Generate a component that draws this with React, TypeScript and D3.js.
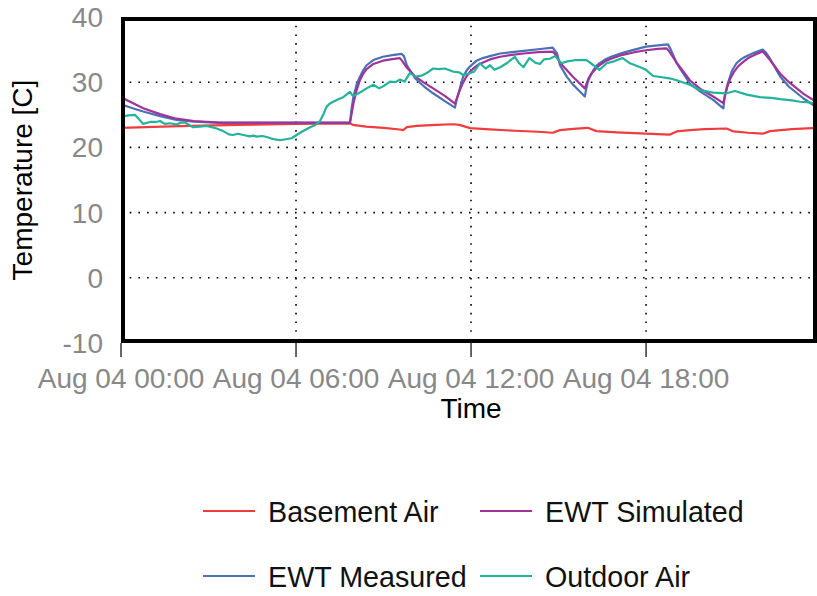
import React from "react";
import * as d3 from "d3";

// Readings for Aug 04, as [hours since midnight, temperature °C]
const basementAir: [number, number][] = [
  [0, 23.0], [2, 23.25], [4, 23.45], [6, 23.6], [7.85, 23.7], [7.95, 23.45], [8.4, 23.2],
  [9.0, 23.0], [9.56, 22.75], [9.67, 22.65], [9.8, 23.1], [10.14, 23.3], [10.8, 23.45],
  [11.4, 23.55], [11.6, 23.45], [11.97, 22.95], [12.65, 22.75], [13.5, 22.55], [14.3, 22.4],
  [14.8, 22.25], [15.05, 22.65], [15.5, 22.85], [16.0, 23.0], [16.3, 22.5], [17.0, 22.3],
  [18.0, 22.1], [18.8, 21.95], [19.05, 22.45], [19.5, 22.65], [20.0, 22.8], [20.76, 22.9],
  [21.0, 22.45], [21.5, 22.25], [22.0, 22.1], [22.25, 22.5], [23.0, 22.8], [23.86, 23.0],
];

const ewtSimulated: [number, number][] = [
  [0, 27.7], [0.4, 26.8], [0.76, 26.0], [1.34, 25.1], [1.9, 24.4], [2.5, 24.05], [3.4, 23.8],
  [7.85, 23.8], [7.9, 25.0], [7.97, 26.8], [8.08, 28.8], [8.19, 30.3], [8.3, 31.3], [8.42, 32.0],
  [8.65, 32.8], [8.98, 33.3], [9.3, 33.55], [9.56, 33.7], [9.65, 33.2], [9.8, 32.2], [10.08, 30.9],
  [10.4, 29.9], [10.7, 29.05], [11.1, 27.9], [11.45, 26.7], [11.52, 27.6], [11.6, 28.6],
  [11.7, 29.7], [11.82, 30.7], [11.96, 31.6], [12.1, 32.2], [12.25, 32.7], [12.45, 33.1],
  [12.65, 33.5], [13.0, 33.9], [13.4, 34.2], [13.8, 34.4], [14.3, 34.6], [14.8, 34.7], [14.9, 34.2],
  [15.05, 33.0], [15.5, 30.8], [15.9, 29.05], [15.96, 29.8], [16.03, 30.6], [16.12, 31.3],
  [16.25, 31.95], [16.4, 32.6], [16.6, 33.2], [16.8, 33.6], [17.2, 34.2], [17.6, 34.6], [18.0, 34.9],
  [18.4, 35.1], [18.7, 35.2], [18.8, 34.7], [19.05, 33.0], [19.5, 30.3], [19.85, 29.0], [20.3, 27.8],
  [20.65, 26.8], [20.7, 27.8], [20.78, 29.2], [20.88, 30.5], [21.0, 31.5], [21.15, 32.4],
  [21.3, 33.0], [21.5, 33.7], [21.75, 34.25], [22.0, 34.7], [22.1, 34.2], [22.25, 33.4],
  [22.6, 31.3], [22.9, 30.0], [23.4, 28.2], [23.86, 26.9],
];

const ewtMeasured: [number, number][] = [
  [0, 26.6], [0.4, 26.0], [0.76, 25.5], [1.34, 24.8], [1.9, 24.2], [2.5, 23.95], [3.4, 23.75],
  [7.85, 23.75], [7.9, 25.8], [7.97, 27.8], [8.08, 29.7], [8.19, 30.85], [8.3, 31.8], [8.42, 32.6],
  [8.65, 33.4], [8.98, 33.9], [9.3, 34.15], [9.62, 34.35], [9.7, 34.0], [9.8, 32.6], [10.08, 30.6],
  [10.4, 29.3], [10.7, 28.3], [11.1, 27.1], [11.45, 26.1], [11.5, 27.2], [11.57, 28.3],
  [11.65, 29.6], [11.73, 30.85], [11.85, 31.8], [11.96, 32.4], [12.19, 33.3], [12.4, 33.7],
  [12.65, 34.0], [13.0, 34.4], [13.4, 34.6], [13.8, 34.8], [14.3, 35.05], [14.8, 35.3],
  [14.95, 34.4], [15.05, 32.6], [15.28, 30.85], [15.5, 29.6], [15.9, 27.8], [15.95, 29.0],
  [16.0, 30.0], [16.08, 30.85], [16.2, 31.9], [16.3, 32.5], [16.4, 32.9], [16.6, 33.5], [16.8, 33.9],
  [17.2, 34.5], [17.6, 35.0], [18.0, 35.45], [18.4, 35.65], [18.75, 35.8], [18.85, 35.0],
  [19.05, 32.9], [19.16, 32.1], [19.5, 29.8], [19.85, 28.6], [20.3, 27.3], [20.65, 26.0],
  [20.7, 28.0], [20.8, 29.8], [20.95, 31.8], [21.1, 32.9], [21.25, 33.5], [21.4, 33.9],
  [21.7, 34.5], [22.0, 35.0], [22.1, 34.6], [22.25, 33.6], [22.6, 30.85], [22.9, 29.3],
  [23.4, 27.5], [23.86, 26.1],
];

const outdoorAir: [number, number][] = [
  [0, 24.7], [0.25, 24.9], [0.48, 25.0], [0.62, 24.3], [0.76, 23.6], [1.0, 23.9], [1.2, 23.9],
  [1.34, 24.05], [1.5, 23.6], [1.7, 23.7], [1.9, 23.5], [2.05, 23.8], [2.2, 23.8], [2.35, 23.4],
  [2.47, 23.1], [2.7, 23.2], [2.94, 23.3], [3.1, 23.1], [3.28, 22.9], [3.5, 22.5], [3.7, 22.0],
  [3.84, 21.9], [4.0, 22.1], [4.2, 21.9], [4.4, 21.7], [4.55, 21.8], [4.65, 21.65], [4.85, 21.75],
  [5.0, 21.6], [5.2, 21.3], [5.45, 21.1], [5.65, 21.25], [5.85, 21.4], [6.02, 21.9], [6.2, 22.4],
  [6.48, 23.1], [6.65, 23.4], [6.82, 24.0], [6.95, 25.2], [7.05, 26.25], [7.15, 26.7], [7.27, 27.0],
  [7.45, 27.4], [7.62, 27.7], [7.85, 28.5], [7.95, 27.9], [8.15, 28.3], [8.42, 29.05], [8.65, 29.6],
  [8.85, 29.05], [9.0, 29.4], [9.22, 30.1], [9.4, 30.0], [9.56, 30.4], [9.72, 30.1], [9.9, 31.4],
  [10.1, 30.85], [10.3, 31.0], [10.48, 31.4], [10.7, 32.1], [10.9, 32.0], [11.1, 32.1], [11.4, 31.6],
  [11.6, 31.5], [11.73, 31.1], [11.9, 31.3], [12.1, 31.6], [12.3, 32.9], [12.5, 32.1], [12.65, 32.6],
  [12.8, 31.9], [13.0, 32.3], [13.22, 32.9], [13.5, 33.9], [13.65, 32.9], [13.8, 32.3], [14.0, 33.7],
  [14.2, 33.0], [14.36, 32.8], [14.5, 33.5], [14.7, 33.6], [14.88, 34.0], [15.1, 32.9], [15.3, 33.2],
  [15.6, 33.4], [15.96, 33.4], [16.2, 32.6], [16.4, 31.9], [16.65, 32.9], [16.9, 33.2], [17.2, 33.7],
  [17.45, 32.9], [17.8, 32.3], [18.0, 31.9], [18.24, 30.95], [18.5, 30.8], [18.8, 30.6], [19.05, 30.3],
  [19.5, 29.6], [19.85, 28.8], [20.3, 28.4], [20.76, 28.3], [21.05, 28.65], [21.45, 28.1],
  [21.9, 27.7], [22.3, 27.6], [22.6, 27.4], [23.0, 27.2], [23.28, 27.0], [23.6, 26.9], [23.86, 26.6],
];

const yTicks = [-10, 0, 10, 20, 30, 40];
const xTickHours = [0, 6, 12, 18];

type Series = { name: string; color: string; data: [number, number][] };

const seriesList: Series[] = [
  { name: "Basement Air", color: "#f03c3c", data: basementAir },
  { name: "EWT Measured", color: "#4a70b5", data: ewtMeasured },
  { name: "EWT Simulated", color: "#a0339a", data: ewtSimulated },
  { name: "Outdoor Air", color: "#23b39b", data: outdoorAir },
];

// legend layout: two rows, two columns
const legendOrder = ["Basement Air", "EWT Simulated", "EWT Measured", "Outdoor Air"];

const W = 817;
const H = 596;
const left = 121;
const right = 817;
const top = 17;
const bottom = 343;
const FONT = "'Liberation Sans', Arial, Helvetica, sans-serif";

const day = new Date(2015, 7, 4, 0, 0, 0);
const at = (h: number) => new Date(day.getTime() + h * 3600 * 1000);

export default function App() {
  const x = d3.scaleTime().domain([at(0), at(23.86)]).range([left, right]);
  const y = d3.scaleLinear().domain([-10, 40]).range([bottom, top]);
  const fmt = d3.timeFormat("%b %d %H:%M");
  const line = d3
    .line<[number, number]>()
    .x((d) => x(at(d[0])))
    .y((d) => y(d[1]));

  const dash = "1.6 7.1";

  return (
    <svg
      width={W}
      height={H}
      style={{ position: "fixed", left: 0, top: 0, background: "#fff" }}
      fontFamily={FONT}
    >
      <rect x={0} y={0} width={W} height={H} fill="#fff" />
      <defs>
        <clipPath id="plot-clip">
          <rect x={left} y={top} width={right - left} height={bottom - top} />
        </clipPath>
      </defs>

      {/* grid */}
      {yTicks
        .filter((t) => t > -10 && t < 40)
        .map((t) => (
          <line
            key={"gy" + t}
            x1={left}
            x2={right}
            y1={y(t)}
            y2={y(t)}
            stroke="#000"
            strokeWidth={1.6}
            strokeDasharray={dash}
          />
        ))}
      {xTickHours
        .filter((h) => h > 0)
        .map((h) => (
          <line
            key={"gx" + h}
            x1={x(at(h))}
            x2={x(at(h))}
            y1={top}
            y2={bottom}
            stroke="#000"
            strokeWidth={1.6}
            strokeDasharray={dash}
          />
        ))}

      {/* series */}
      <g clipPath="url(#plot-clip)">
        {seriesList.map((s) => (
          <path
            key={s.name}
            d={line(s.data) || ""}
            fill="none"
            stroke={s.color}
            strokeWidth={2.2}
            strokeLinejoin="round"
          />
        ))}
      </g>

      {/* frame */}
      <rect
        x={left + 2}
        y={top + 2}
        width={right - left - 4}
        height={bottom - top - 4}
        fill="none"
        stroke="#000"
        strokeWidth={4}
      />

      {/* x axis ticks and labels */}
      {xTickHours.map((h) => (
        <g key={"xt" + h}>
          <line x1={x(at(h))} x2={x(at(h))} y1={bottom} y2={357} stroke="#000" strokeWidth={1.2} />
          <text
            x={x(at(h))}
            y={388}
            textAnchor="middle"
            fontSize={28}
            fill="#888"
          >
            {fmt(at(h))}
          </text>
        </g>
      ))}

      {/* y tick labels */}
      {yTicks.map((t) => (
        <text
          key={"yt" + t}
          x={103}
          y={y(t) + 10}
          textAnchor="end"
          fontSize={28}
          fill="#888"
        >
          {t}
        </text>
      ))}

      {/* axis titles */}
      <text x={471} y={418} textAnchor="middle" fontSize={28} fill="#000">
        Time
      </text>
      <text
        transform={`translate(32, ${(top + bottom) / 2}) rotate(-90)`}
        textAnchor="middle"
        fontSize={28}
        fill="#000"
      >
        Temperature [C]
      </text>

      {/* legend */}
      {legendOrder.map((name, i) => {
        const s = seriesList.find((d) => d.name === name)!;
        const col = i % 2;
        const row = Math.floor(i / 2);
        const lx = col === 0 ? 203 : 480;
        const ly = row === 0 ? 511 : 576;
        return (
          <g key={"lg" + name}>
            <line x1={lx} x2={lx + 52} y1={ly} y2={ly} stroke={s.color} strokeWidth={2} />
            <text x={lx + 65} y={ly + 10.5} fontSize={28.7} fill="#111">
              {name}
            </text>
          </g>
        );
      })}
    </svg>
  );
}
